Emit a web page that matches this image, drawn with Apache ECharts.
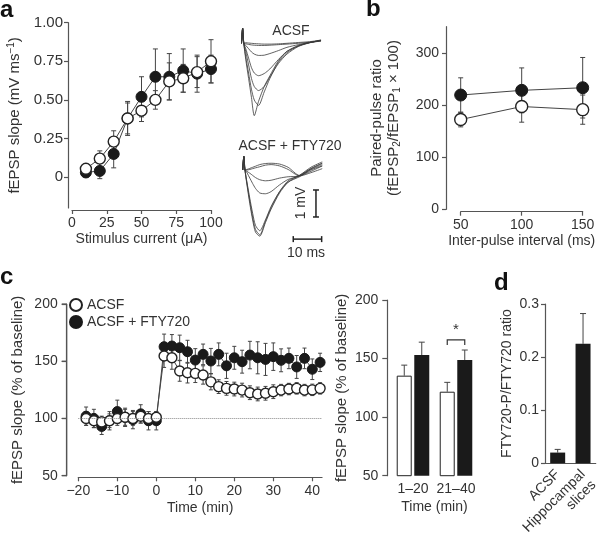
<!DOCTYPE html>
<html>
<head>
<meta charset="utf-8">
<script src="https://cdn.jsdelivr.net/npm/echarts@6/dist/echarts.min.js"></script>
<style>
  html, body { margin: 0; padding: 0; background: #fff; }
  #chart { width: 600px; height: 548px; }
</style>
</head>
<body>
<div id="chart"></div>
<script>
// panel a: input-output curve
const currents = [10, 20, 30, 40, 50, 60, 70, 80, 90, 100]
const acsfA = [0.054, 0.12, 0.23, 0.38, 0.43, 0.50, 0.62, 0.64, 0.68, 0.75]
const acsfAErr = [0.02, 0.05, 0.07, 0.11, 0.07, 0.06, 0.12, 0.09, 0.10, 0.14]
const ftyA = [0.03, 0.04, 0.15, 0.38, 0.52, 0.65, 0.65, 0.69, 0.67, 0.70]
const ftyAErr = [0.03, 0.05, 0.09, 0.10, 0.13, 0.18, 0.15, 0.14, 0.12, 0.09]

// panel a: example traces (ms, mV)
const tTrace = [0, 0.4, 0.8, 1.5, 2.5, 3.5, 4.5, 6, 8, 10, 13, 16, 20, 24, 28]
const acsfTraces = [
  [0, 0.55, 0, -0.6, -1.3, -2.0, -2.68, -2.15, -1.6, -1.2, -0.65, -0.3, -0.08, 0.02, 0.1],
  [0, 0.55, 0, -0.5, -1.1, -1.7, -2.1, -2.3, -1.8, -1.3, -0.7, -0.35, -0.1, 0.03, 0.1],
  [0, 0.55, 0, -0.3, -0.8, -1.3, -1.6, -1.75, -1.6, -1.25, -0.75, -0.4, -0.12, 0.02, 0.12],
  [0, 0.55, 0, -0.2, -0.55, -0.9, -1.1, -1.2, -1.12, -0.95, -0.6, -0.3, -0.1, 0.03, 0.1],
  [0, 0.55, 0, -0.08, -0.2, -0.32, -0.4, -0.45, -0.44, -0.38, -0.27, -0.15, -0.05, 0.03, 0.08],
  [0, 0.55, 0, -0.02, -0.04, -0.06, -0.07, -0.08, -0.08, -0.07, -0.05, -0.03, 0, 0.04, 0.1],
  [0, 0.55, 0, 0.02, 0.01, 0, -0.01, -0.02, -0.03, -0.03, -0.02, 0, 0.03, 0.06, 0.12]
]
const ftyTraces = [
  [0, 0.5, 0, -0.55, -1.25, -1.85, -2.3, -2.45, -1.95, -1.45, -0.85, -0.45, -0.2, 0.1, 0.3],
  [0, 0.5, 0, -0.5, -1.15, -1.75, -2.2, -2.4, -1.9, -1.4, -0.8, -0.4, -0.2, 0.05, 0.25],
  [0, 0.5, 0, -0.45, -1.05, -1.6, -2.05, -2.25, -1.85, -1.35, -0.8, -0.45, -0.25, 0, 0.15],
  [0, 0.5, 0, -0.1, -0.3, -0.5, -0.68, -0.85, -0.88, -0.8, -0.55, -0.35, -0.22, 0.02, 0.2],
  [0, 0.5, 0, -0.05, -0.12, -0.2, -0.28, -0.36, -0.4, -0.38, -0.3, -0.25, -0.22, 0.05, 0.25],
  [0, 0.5, 0, 0.02, 0.06, 0.1, 0.14, 0.2, 0.24, 0.25, 0.22, 0.1, -0.2, -0.05, 0.15],
  [0, 0.5, 0, 0, 0.02, 0.05, 0.08, 0.12, 0.18, 0.2, 0.15, 0.02, -0.22, -0.1, 0.05]
]

// panel b: paired-pulse ratio
const intervals = [50, 100, 150]
const acsfB = [172, 197, 191]
const acsfBErr = [14, 30, 28]
const ftyB = [219, 228, 233]
const ftyBErr = [33, 43, 58]

// panel c: LTP time course
const timeC = [-18, -16, -14, -12, -10, -8, -6, -4, -2, 0, 2, 4, 6, 8, 10, 12, 14, 16, 18, 20,
  22, 24, 26, 28, 30, 32, 34, 36, 38, 40, 42]
const acsfC = [100, 98, 97, 98, 100, 101, 100, 102, 100, 101, 154.6, 153, 141.5, 140, 139.4, 138,
  132, 127.8, 126.3, 125.7, 124.8, 122.5, 121.4, 122, 123.4, 124.8, 125.7, 126.3, 124.8, 125, 126.3]
const acsfCErr = [6, 6, 5, 6, 6, 7, 6, 6, 6, 5, 10, 10, 9, 9, 8, 8, 7, 6, 6, 6, 6, 6, 6, 6, 6, 5,
  5, 5, 5, 5, 5]
const ftyC = [102, 100, 93, 98, 106, 101, 99, 104, 98, 98, 162.7, 163.3, 161.8, 158.3, 151, 156,
  150.2, 156, 146, 153, 149.6, 155.4, 153, 151.6, 154, 150.8, 152.5, 145, 152.5, 143, 149]
const ftyCErr = [8, 8, 7, 8, 10, 8, 8, 8, 8, 8, 11, 10, 11, 10, 10, 9, 11, 10, 11, 10, 10, 12, 14,
  14, 12, 10, 9, 10, 9, 9, 8]
const ticksC = [50, 100, 150, 200]

// panel c: averaged periods
const periods = ['1–20', '21–40']
const acsfBar = [135.4, 121.7]
const acsfBarErr = [9, 8]
const ftyBar = [153, 148.8]
const ftyBarErr = [11, 8.5]
const sigBracket = [1, 166, 161.6] // period index, top, leg end

// panel d
const samples = ['ACSF', 'Hippocampal\nslices']
const ratio = [0.02, 0.225]
const ratioErr = [0.006, 0.057]

const FONT = 'Liberation Sans, Arial, sans-serif'
const TEXT = '#333'
const AXIS = '#555'
const BLACK = '#1a1a1a'
const BAR_W = 15
const BAR_SHIFT = 8.75
const C_AXIS_OFFSET = 11.6

function axisStyle(extra) {
  return Object.assign({
    axisLine: { show: true, onZero: false, lineStyle: { color: AXIS, width: 1.2 } },
    axisTick: { show: true, length: 4, lineStyle: { color: AXIS, width: 1.2 } },
    axisLabel: { fontSize: 14, color: TEXT, fontFamily: FONT, margin: 6 },
    splitLine: { show: false },
    nameTextStyle: { fontSize: 14, color: TEXT, fontFamily: FONT },
    nameLocation: 'middle'
  }, extra)
}

function hiddenAxis(idx, min, max) {
  return { type: 'value', gridIndex: idx, min, max, show: false }
}

function errorBars(xi, yi, data, cap, upOnly, shift) {
  return {
    type: 'custom',
    xAxisIndex: xi,
    yAxisIndex: yi,
    z: 2,
    silent: true,
    clip: false,
    data,
    renderItem(params, api) {
      const x = api.value(0)
      const y = api.value(1)
      const e = api.value(2)
      const top = api.coord([x, y + e])
      const bot = api.coord([x, upOnly ? y : y - e])
      const dx = shift || 0
      const style = { stroke: '#444', lineWidth: 1 }
      const kids = [
        { type: 'line', shape: { x1: top[0] + dx, y1: top[1], x2: bot[0] + dx, y2: bot[1] }, style },
        { type: 'line', shape: { x1: top[0] + dx - cap, y1: top[1], x2: top[0] + dx + cap, y2: top[1] }, style }
      ]
      if (!upOnly) {
        kids.push({ type: 'line', shape: { x1: bot[0] + dx - cap, y1: bot[1], x2: bot[0] + dx + cap, y2: bot[1] }, style })
      }
      return { type: 'group', children: kids }
    }
  }
}

function pointSeries(name, xi, yi, data, open, size) {
  return {
    name,
    type: 'line',
    xAxisIndex: xi,
    yAxisIndex: yi,
    data,
    symbol: 'circle',
    symbolSize: size,
    z: open ? 4 : 3,
    emphasis: { disabled: true },
    lineStyle: { color: '#444', width: 1 },
    itemStyle: open
      ? { color: '#fff', borderColor: '#222', borderWidth: 1.4 }
      : { color: BLACK, borderColor: BLACK, borderWidth: 1 }
  }
}

function zip(xs, ys, es) {
  return xs.map((x, i) => es ? [x, ys[i], es[i]] : [x, ys[i]])
}

const chart = echarts.init(document.getElementById('chart'), null, { renderer: 'canvas' })

const series = []

// a
series.push(errorBars(0, 0, zip(currents, ftyA, ftyAErr), 2.5))
series.push(errorBars(0, 0, zip(currents, acsfA, acsfAErr), 2.5))
series.push(pointSeries('ACSF + FTY720', 0, 0, zip(currents, ftyA), false, 11))
series.push(pointSeries('ACSF', 0, 0, zip(currents, acsfA), true, 11))

// a traces
acsfTraces.forEach((tr) => {
  series.push({
    type: 'line', xAxisIndex: 1, yAxisIndex: 1, silent: true, symbol: 'none',
    smooth: 0.25, data: zip(tTrace, tr), lineStyle: { color: '#3a3a3a', width: 0.8 }
  })
})
ftyTraces.forEach((tr) => {
  series.push({
    type: 'line', xAxisIndex: 2, yAxisIndex: 2, silent: true, symbol: 'none',
    smooth: 0.25, data: zip(tTrace, tr), lineStyle: { color: '#3a3a3a', width: 0.8 }
  })
})
// scale bars: 1 mV and 10 ms
series.push({
  type: 'custom', xAxisIndex: 2, yAxisIndex: 2, silent: true, clip: false,
  data: [[25.8, -0.74, 1, 17.8, -2.56, 10]],
  renderItem(params, api) {
    const v0 = api.coord([api.value(0), api.value(1)])
    const v1 = api.coord([api.value(0), api.value(1) - api.value(2)])
    const h0 = api.coord([api.value(3), api.value(4)])
    const h1 = api.coord([api.value(3) + api.value(5), api.value(4)])
    const style = { stroke: '#222', lineWidth: 1.5 }
    const seg = (x1, y1, x2, y2) => ({ type: 'line', shape: { x1, y1, x2, y2 }, style })
    return {
      type: 'group',
      children: [
        seg(v0[0], v0[1], v1[0], v1[1]),
        seg(v0[0] - 3, v0[1], v0[0] + 3, v0[1]),
        seg(v1[0] - 3, v1[1], v1[0] + 3, v1[1]),
        seg(h0[0], h0[1], h1[0], h1[1]),
        seg(h0[0], h0[1] - 3, h0[0], h0[1] + 3),
        seg(h1[0], h1[1] - 3, h1[0], h1[1] + 3)
      ]
    }
  }
})

// b
series.push(errorBars(3, 3, zip(intervals, ftyB, ftyBErr), 2.5))
series.push(errorBars(3, 3, zip(intervals, acsfB, acsfBErr), 2.5))
series.push(pointSeries('ACSF + FTY720', 3, 3, zip(intervals, ftyB), false, 12))
series.push(pointSeries('ACSF', 3, 3, zip(intervals, acsfB), true, 12))

// c time course
series.push(errorBars(4, 4, zip(timeC, ftyC, ftyCErr), 2))
series.push(errorBars(4, 4, zip(timeC, acsfC, acsfCErr), 2))
const ftyLine = pointSeries('ACSF + FTY720', 4, 4, zip(timeC, ftyC), false, 10)
const acsfLine = pointSeries('ACSF', 4, 4, zip(timeC, acsfC), true, 10)
acsfLine.markLine = {
  silent: true,
  symbol: 'none',
  label: { show: false },
  lineStyle: { type: 'dotted', color: '#888', width: 1 },
  data: [{ yAxis: 100 }]
}
series.push(ftyLine, acsfLine)

// c bars
series.push({
  type: 'bar', xAxisIndex: 5, yAxisIndex: 5, data: acsfBar, barWidth: BAR_W, barGap: '17%',
  silent: true, itemStyle: { color: '#fff', borderColor: '#222', borderWidth: 1 }
})
series.push({
  type: 'bar', xAxisIndex: 5, yAxisIndex: 5, data: ftyBar, barWidth: BAR_W, barGap: '17%',
  silent: true, itemStyle: { color: BLACK }
})
series.push(errorBars(5, 5, periods.map((p, i) => [i, acsfBar[i], acsfBarErr[i]]), 3, true, -BAR_SHIFT))
series.push(errorBars(5, 5, periods.map((p, i) => [i, ftyBar[i], ftyBarErr[i]]), 3, true, BAR_SHIFT))
series.push({
  type: 'custom', xAxisIndex: 5, yAxisIndex: 5, silent: true, clip: false,
  data: [sigBracket],
  renderItem(params, api) {
    const top = api.coord([api.value(0), api.value(1)])
    const leg = api.coord([api.value(0), api.value(2)])
    const x1 = top[0] - BAR_SHIFT
    const x2 = top[0] + BAR_SHIFT
    return {
      type: 'group',
      children: [
        {
          type: 'polyline',
          shape: { points: [[x1, leg[1]], [x1, top[1]], [x2, top[1]], [x2, leg[1]]] },
          style: { stroke: '#333', lineWidth: 1.2, fill: null }
        },
        {
          type: 'text',
          style: {
            text: '*', x: top[0], y: top[1] - 2, align: 'center', verticalAlign: 'bottom',
            font: '15px ' + FONT, fill: TEXT
          }
        }
      ]
    }
  }
})

// d
series.push({
  type: 'bar', xAxisIndex: 6, yAxisIndex: 6, data: ratio, barWidth: BAR_W, silent: true,
  itemStyle: { color: BLACK }
})
series.push(errorBars(6, 6, samples.map((s, i) => [i, ratio[i], ratioErr[i]]), 3, true, 0))

const labelGraphics = [
  { type: 'text', x: 0, y: 10, style: { text: 'a', font: 'bold 24px ' + FONT, fill: '#111', align: 'left', verticalAlign: 'middle' } },
  { type: 'text', x: 366, y: 9, style: { text: 'b', font: 'bold 24px ' + FONT, fill: '#111', align: 'left', verticalAlign: 'middle' } },
  { type: 'text', x: 0, y: 277, style: { text: 'c', font: 'bold 24px ' + FONT, fill: '#111', align: 'left', verticalAlign: 'middle' } },
  { type: 'text', x: 494, y: 283, style: { text: 'd', font: 'bold 24px ' + FONT, fill: '#111', align: 'left', verticalAlign: 'middle' } },
  { type: 'text', x: 291, y: 31, style: { text: 'ACSF', font: '14px ' + FONT, fill: TEXT, align: 'center', verticalAlign: 'middle' } },
  { type: 'text', x: 290, y: 146, style: { text: 'ACSF + FTY720', font: '14px ' + FONT, fill: TEXT, align: 'center', verticalAlign: 'middle' } },
  { type: 'text', x: 301, y: 203, rotation: Math.PI / 2, style: { text: '1 mV', font: '14px ' + FONT, fill: TEXT, align: 'center', verticalAlign: 'middle' } },
  { type: 'text', x: 306, y: 253, style: { text: '10 ms', font: '14px ' + FONT, fill: TEXT, align: 'center', verticalAlign: 'middle' } }
]

const option = {
  animation: false,
  backgroundColor: '#fff',
  textStyle: { fontFamily: FONT },
  legend: {
    data: ['ACSF', 'ACSF + FTY720'],
    orient: 'vertical',
    left: 69,
    top: 298,
    padding: 0,
    icon: 'circle',
    itemWidth: 12,
    itemHeight: 12,
    itemGap: 3,
    selectedMode: false,
    textStyle: { fontSize: 14, color: TEXT, fontFamily: FONT, lineHeight: 14 }
  },
  grid: [
    { left: 72, top: 22.7, width: 139, height: 185.3 },
    { left: 241.5, top: 21.7, width: 85.2, height: 97.2 },
    { left: 242.7, top: 148.4, width: 85.2, height: 97.2 },
    { left: 460.7, top: 26.7, width: 122, height: 182.6 },
    { left: 78.3, top: 304, width: 243.75, height: 171.7 },
    { left: 391.5, top: 300, width: 86, height: 175.7 },
    { left: 545, top: 304, width: 55, height: 172 }
  ],
  xAxis: [
    axisStyle({
      type: 'value', gridIndex: 0, min: 0, max: 100, interval: 25, offset: 2,
      name: 'Stimulus current (μA)', nameGap: 22
    }),
    hiddenAxis(1, 0, 30),
    hiddenAxis(2, 0, 30),
    axisStyle({
      type: 'value', gridIndex: 3, min: 50, max: 150, interval: 50, offset: 2.4,
      name: 'Inter-pulse interval (ms)', nameGap: 22
    }),
    axisStyle({
      type: 'value', gridIndex: 4, min: -20, max: 42.5, offset: 1.6,
      axisTick: { show: true, length: 4, customValues: [-20, -10, 0, 10, 20, 30, 40], lineStyle: { color: AXIS, width: 1.2 } },
      axisLabel: {
        fontSize: 14, color: TEXT, fontFamily: FONT, margin: 7,
        customValues: [-20, -10, 0, 10, 20, 30, 40],
        formatter: (v) => (v < 0 ? '−' + Math.abs(v) : String(v))
      },
      name: 'Time (min)', nameGap: 24
    }),
    axisStyle({
      type: 'category', gridIndex: 5, data: periods,
      axisLine: { show: false, onZero: false }, axisTick: { show: false },
      axisLabel: { fontSize: 14, color: TEXT, fontFamily: FONT, margin: 6, interval: 0 },
      name: 'Time (min)', nameGap: 24
    }),
    axisStyle({
      type: 'category', gridIndex: 6, data: samples,
      axisTick: { show: false },
      axisLabel: {
        fontSize: 14, color: TEXT, fontFamily: FONT, margin: 9, rotate: 45, interval: 0, lineHeight: 15,
        // blank first line keeps the first text line centred on the tick
        formatter: (v) => (v.indexOf('\n') >= 0 ? '\n' + v : v)
      }
    })
  ],
  yAxis: [
    axisStyle({
      type: 'value', gridIndex: 0, min: -0.2, max: 1, offset: 4,
      axisTick: { show: true, length: 4, customValues: [0, 0.25, 0.5, 0.75, 1], lineStyle: { color: AXIS, width: 1.2 } },
      axisLabel: {
        fontSize: 15, color: TEXT, fontFamily: FONT, margin: 5,
        customValues: [0, 0.25, 0.5, 0.75, 1],
        formatter: (v) => (v === 0 ? '0' : v.toFixed(2))
      },
      name: 'fEPSP slope (mV ms{sup|−1})', nameGap: 44,
      nameTextStyle: {
        fontSize: 15, color: TEXT, fontFamily: FONT,
        rich: { sup: { fontSize: 10, verticalAlign: 'top', padding: [0, 0, 8, 0], fontFamily: FONT, color: TEXT } }
      }
    }),
    hiddenAxis(1, -2.8, 0.8),
    hiddenAxis(2, -2.8, 0.8),
    axisStyle({
      type: 'value', gridIndex: 3, min: 0, max: 350, offset: 14.7,
      axisTick: { show: true, length: 4, customValues: [0, 100, 200, 300], lineStyle: { color: AXIS, width: 1.2 } },
      axisLabel: { fontSize: 14, color: TEXT, fontFamily: FONT, margin: 7, customValues: [0, 100, 200, 300] },
      name: 'Paired-pulse ratio\n(fEPSP{sub|2}/fEPSP{sub|1} × 100)', nameGap: 44,
      nameTextStyle: {
        fontSize: 15, color: TEXT, fontFamily: FONT, lineHeight: 17,
        rich: { sub: { fontSize: 10, verticalAlign: 'bottom', padding: [6, 0, 0, 0], fontFamily: FONT, color: TEXT } }
      }
    }),
    axisStyle({
      type: 'value', gridIndex: 4, min: 50, max: 200, interval: 50, offset: C_AXIS_OFFSET,
      axisTick: { show: true, length: 5, lineStyle: { color: AXIS, width: 1.2 } },
      axisLabel: { fontSize: 14, color: TEXT, fontFamily: FONT, margin: 9 },
      name: 'fEPSP slope (% of baseline)', nameGap: 41,
      nameTextStyle: { fontSize: 15, color: TEXT, fontFamily: FONT }
    }),
    axisStyle({
      type: 'value', gridIndex: 5, min: 50, max: 200, interval: 50, offset: 4.2,
      axisTick: { show: true, length: 5, lineStyle: { color: AXIS, width: 1.2 } },
      axisLabel: { fontSize: 14, color: TEXT, fontFamily: FONT, margin: 9 },
      name: 'fEPSP slope (% of baseline)', nameGap: 38,
      nameTextStyle: { fontSize: 15, color: TEXT, fontFamily: FONT }
    }),
    axisStyle({
      type: 'value', gridIndex: 6, min: 0, max: 0.3, interval: 0.1,
      axisLabel: {
        fontSize: 14, color: TEXT, fontFamily: FONT, margin: 6,
        formatter: (v) => (v === 0 ? '0' : v.toFixed(1))
      },
      name: 'FTY720-P/FTY720 ratio', nameGap: 31,
      nameTextStyle: { fontSize: 14, color: TEXT, fontFamily: FONT }
    })
  ],
  graphic: labelGraphics,
  series
}

chart.setOption(option)

// panel c's y axis line did not show up in this layout; trace it from the grid's own scale
const cBottom = chart.convertToPixel({ gridIndex: 4 }, [-20, ticksC[0]])
const cTop = chart.convertToPixel({ gridIndex: 4 }, [-20, ticksC[ticksC.length - 1]])
const axisX = cBottom[0] - C_AXIS_OFFSET
const axisLineStyle = { stroke: AXIS, lineWidth: 1.2 }
const cAxisGraphics = [
  { type: 'line', z: 100, silent: true, shape: { x1: axisX, y1: cBottom[1], x2: axisX, y2: cTop[1] }, style: axisLineStyle }
].concat(ticksC.map((v) => {
  const p = chart.convertToPixel({ gridIndex: 4 }, [-20, v])
  return { type: 'line', z: 100, silent: true, shape: { x1: axisX - 5, y1: p[1], x2: axisX, y2: p[1] }, style: axisLineStyle }
}))
chart.setOption({ graphic: labelGraphics.concat(cAxisGraphics) })
</script>
</body>
</html>
